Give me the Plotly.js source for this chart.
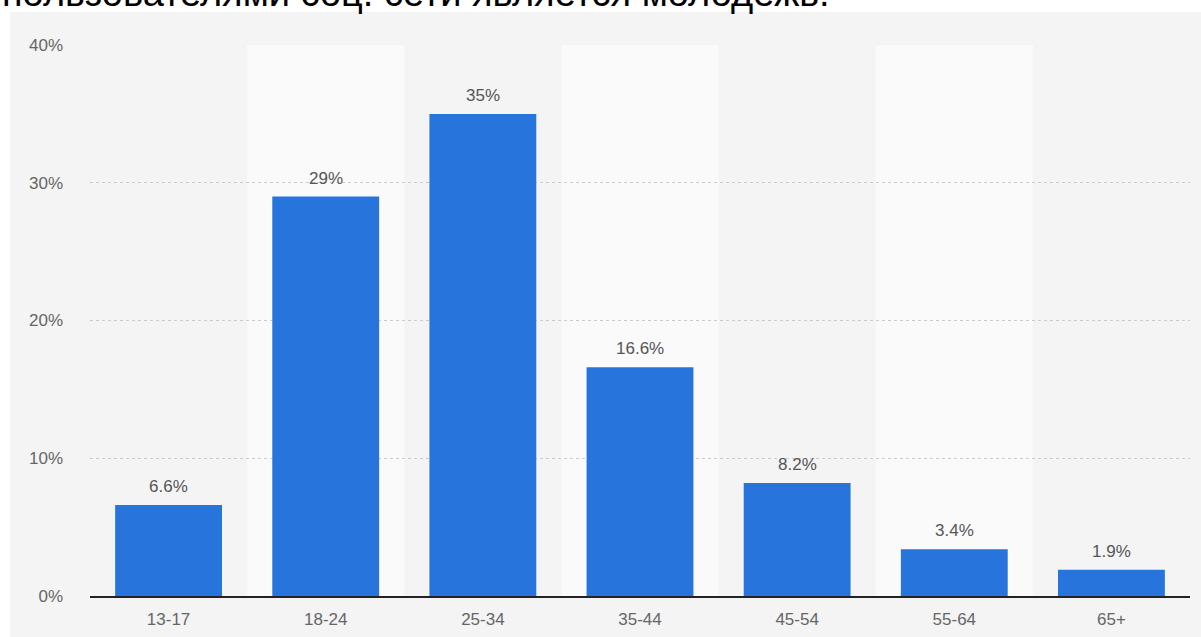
<!DOCTYPE html>
<html>
<head>
<meta charset="utf-8">
<script src="https://cdn.plot.ly/plotly-3.0.1.min.js"></script>
<style>
html,body{margin:0;padding:0;background:#fff;}
#chart{width:1201px;height:637px;}
</style>
</head>
<body>
<div id="chart"></div>
<script>
const categories = ["13-17", "18-24", "25-34", "35-44", "45-54", "55-64", "65+"];
const shares = [6.6, 29, 35, 16.6, 8.2, 3.4, 1.9];
const yTicks = [0, 10, 20, 30, 40];
const headerText = "пользователями соц. сети является молодежь.";

const FONT = "Liberation Sans, Arial, Helvetica, sans-serif";

// background panel + alternating column bands
const shapes = [{
  type: "rect", xref: "paper", yref: "paper", layer: "below",
  x0: -0.0727, x1: 1.02, y0: -0.2, y1: 1.06,
  fillcolor: "#f4f4f4", line: {width: 0}
}];
categories.forEach((c, i) => {
  if (i % 2 === 1) {
    shapes.push({
      type: "rect", xref: "x", yref: "y", layer: "below",
      x0: i - 0.5, x1: i + 0.5, y0: 0, y1: 40,
      fillcolor: "#fafafa", line: {width: 0}
    });
  }
});

const annotations = shares.map((v, i) => ({
  x: categories[i], y: v, xref: "x", yref: "y",
  text: String(v) + "%", showarrow: false,
  yanchor: "bottom", yshift: 7,
  font: {family: FONT, size: 17, color: "#555"}
}));
annotations.push({
  xref: "paper", yref: "paper", x: -0.0818, y: 1.052,
  xanchor: "left", yanchor: "bottom", showarrow: false,
  text: headerText,
  font: {family: FONT, size: 38, color: "#000"}
});

const trace = {
  type: "bar",
  x: categories,
  y: shares,
  marker: {color: "#2775dc", line: {width: 0}},
  hoverinfo: "skip"
};

const layout = {
  width: 1201, height: 637,
  margin: {l: 90, r: 11, t: 45, b: 41, pad: 0},
  paper_bgcolor: "#ffffff",
  plot_bgcolor: "rgba(0,0,0,0)",
  bargap: 0.32,
  showlegend: false,
  font: {family: FONT, size: 17, color: "#666"},
  xaxis: {
    type: "category",
    showline: true, linecolor: "#222", linewidth: 1.5,
    showgrid: false, zeroline: false,
    ticks: "", ticklabelstandoff: 7,
    tickfont: {family: FONT, size: 17, color: "#666"}
  },
  yaxis: {
    range: [0, 40],
    tickvals: yTicks,
    ticktext: yTicks.map(t => t + "%"),
    showgrid: true, gridcolor: "#cccccc", griddash: "dot", gridwidth: 1,
    zeroline: false, showline: false,
    ticks: "", ticklabelstandoff: 26,
    tickfont: {family: FONT, size: 17, color: "#666"}
  },
  shapes: shapes,
  annotations: annotations
};

Plotly.newPlot("chart", [trace], layout, {staticPlot: true, displayModeBar: false});
</script>
</body>
</html>
